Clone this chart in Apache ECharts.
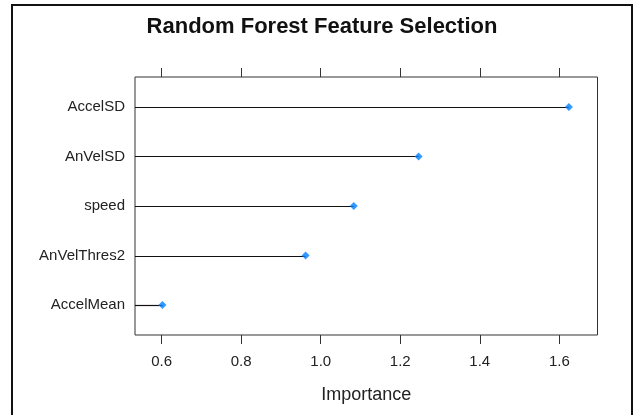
<!DOCTYPE html>
<html>
<head>
<meta charset="utf-8">
<script src="https://cdn.jsdelivr.net/npm/echarts@6/dist/echarts.min.js"></script>
<style>html,body{margin:0;padding:0;background:#fff}#c{width:635px;height:415px}</style>
</head>
<body>
<div id="c"></div>
<script>
// Features, bottom to top
var features = ['AccelMean', 'AnVelThres2', 'speed', 'AnVelSD', 'AccelSD'];
var importance = [0.602, 0.962, 1.083, 1.246, 1.624];
var xTicks = [0.6, 0.8, 1.0, 1.2, 1.4, 1.6];
var xMin = 0.533, xMax = 1.696;
var yIdx = features.map(function (f, i) { return i; });

var chart = echarts.init(document.getElementById('c'), null, {renderer: 'canvas'});
var font = 'Liberation Sans, Arial, sans-serif';
var pts = importance.map(function (v, i) { return [v, i]; });

chart.setOption({
  animation: false,
  backgroundColor: '#fff',
  title: {
    text: 'Random Forest Feature Selection',
    left: 317, top: 11, textAlign: 'center',
    textStyle: {fontFamily: font, fontSize: 22, fontWeight: 'bold', color: '#111'}
  },
  graphic: [{
    type: 'rect', shape: {x: 12, y: 5, width: 620, height: 420},
    style: {fill: 'none', stroke: '#111', lineWidth: 2}, silent: true, z: 100
  }],
  grid: {left: 135, right: 37.5, top: 77, bottom: 80, show: true, borderColor: '#333', borderWidth: 1, backgroundColor: 'transparent'},
  xAxis: [{
    type: 'value', position: 'bottom', min: xMin, max: xMax,
    name: 'Importance', nameLocation: 'middle', nameGap: 51,
    nameTextStyle: {fontFamily: font, fontSize: 18, color: '#222'},
    axisLine: {show: false, onZero: false}, splitLine: {show: false},
    axisTick: {show: true, customValues: xTicks, length: 9, lineStyle: {color: '#333'}},
    axisLabel: {customValues: xTicks, margin: 19, fontFamily: font, fontSize: 15, color: '#222',
      formatter: function (v) { return v.toFixed(1); }}
  }, {
    type: 'value', position: 'top', min: xMin, max: xMax,
    axisLine: {show: false, onZero: false}, splitLine: {show: false},
    axisTick: {show: true, customValues: xTicks, length: 9, lineStyle: {color: '#333'}},
    axisLabel: {show: false}
  }],
  yAxis: {
    type: 'value', min: -0.605, max: 4.605,
    axisLine: {show: false, onZero: false}, splitLine: {show: false}, axisTick: {show: false},
    axisLabel: {customValues: yIdx, margin: 10, fontFamily: font, fontSize: 15, color: '#222',
      formatter: function (v) { return features[Math.round(v)]; }}
  },
  series: [{
    type: 'custom',
    data: pts,
    renderItem: function (params, api) {
      var a = api.coord([xMin, api.value(1)]);
      var b = api.coord([api.value(0), api.value(1)]);
      return {type: 'line', shape: {x1: a[0], y1: Math.round(a[1]) + 0.5, x2: b[0], y2: Math.round(b[1]) + 0.5},
        style: {stroke: '#111', lineWidth: 1.2}};
    },
    z: 2
  }, {
    type: 'scatter', data: pts, symbol: 'diamond', symbolSize: 8,
    itemStyle: {color: '#0080ff'}, z: 3
  }]
});
</script>
</body>
</html>
